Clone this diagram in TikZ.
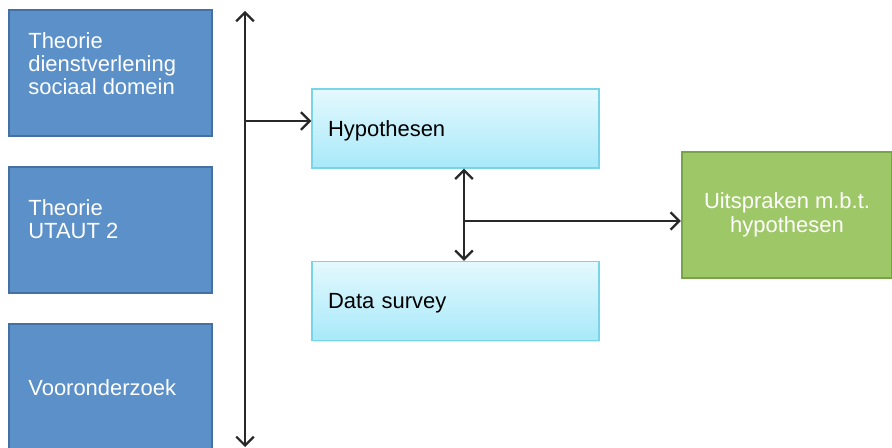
\documentclass[tikz,border=0pt]{standalone}
\usepackage{fontspec}
\setmainfont{Liberation Sans}
\usepackage{tikz}
\usetikzlibrary{calc, positioning, arrows.meta, shadows}
\usepackage{xcolor}
\definecolor{srcBlue}{RGB}{91, 144, 201}
\definecolor{srcBlueEdge}{RGB}{68, 112, 164}
\definecolor{stepTop}{RGB}{228, 249, 254}
\definecolor{stepBot}{RGB}{168, 233, 249}
\definecolor{stepEdge}{RGB}{122, 212, 232}
\definecolor{resGreen}{RGB}{158, 199, 104}
\definecolor{resGreenEdge}{RGB}{121, 163, 74}
\definecolor{wire}{RGB}{40, 40, 40}

\tikzset{
  srcbox/.style={draw=srcBlueEdge, line width=1.2pt, fill=srcBlue,
    minimum width=203*0.02cm, minimum height=126*0.02cm, inner sep=0pt},
  srctext/.style={text=white, align=left, anchor=west, inner sep=0pt},
  stepbox/.style={draw=stepEdge, line width=0.8pt, top color=stepTop, bottom color=stepBot,
    minimum width=287*0.02cm, minimum height=79*0.02cm, text width=255*0.02cm,
    text depth=0pt, align=left, inner sep=0pt,
    drop shadow={opacity=0.18, shadow xshift=0.6pt, shadow yshift=-0.8pt}},
  resbox/.style={draw=resGreenEdge, line width=1.2pt, fill=resGreen, text=white,
    minimum width=210*0.02cm, minimum height=126*0.02cm, align=center, inner sep=0pt,
    font=\fontsize{12.5}{14}\selectfont},
  wireline/.style={draw=wire, line width=0.7pt},
}

\begin{document}
\begin{tikzpicture}[x=0.02cm, y=-0.02cm, font=\fontsize{12.5}{13.1}\selectfont,
  >={Straight Barb[length=5pt, width=10pt, line width=1.3pt]}]
  \useasboundingbox (0,0) rectangle (892,448);

  % Sources on the left
  \node[srcbox] (theoA) at (110.5, 73) {};
  \node[srcbox] (theoB) at (110.5, 230) {};
  \node[srcbox] (voor) at (110.5, 387) {};
  \node[srctext] (theoAtxt) at (28, 64) {Theorie\\dienstverlening\\sociaal domein};
  \node[srctext] (theoBtxt) at (28, 219) {Theorie\\UTAUT 2};
  \node[srctext] (voortxt) at (28, 388) {Vooronderzoek};

  % Steps in the middle
  \node[stepbox] (hyp) at (455.5, 128.5) {Hypothesen};
  \node[stepbox] (data) at (455.5, 301) {Data survey};

  % Result
  \node[resbox] (uit) at (787, 215) {Uitspraken m.b.t.\\hypothesen};

  % Connectors
  \coordinate (busTop) at (245, 11);
  \coordinate (busBot) at (245, 447);
  \coordinate (busHyp) at (245, 121);
  \coordinate (mid) at (464, 221);
  \draw[wireline, <->] (busTop) -- (busBot);
  \draw[wireline, ->] (busHyp) -- (busHyp -| hyp.west);
  \draw[wireline, <->] (hyp.south -| mid) -- (data.north -| mid);
  \draw[wireline, ->] (mid) -- (mid -| uit.west);
\end{tikzpicture}
\end{document}
